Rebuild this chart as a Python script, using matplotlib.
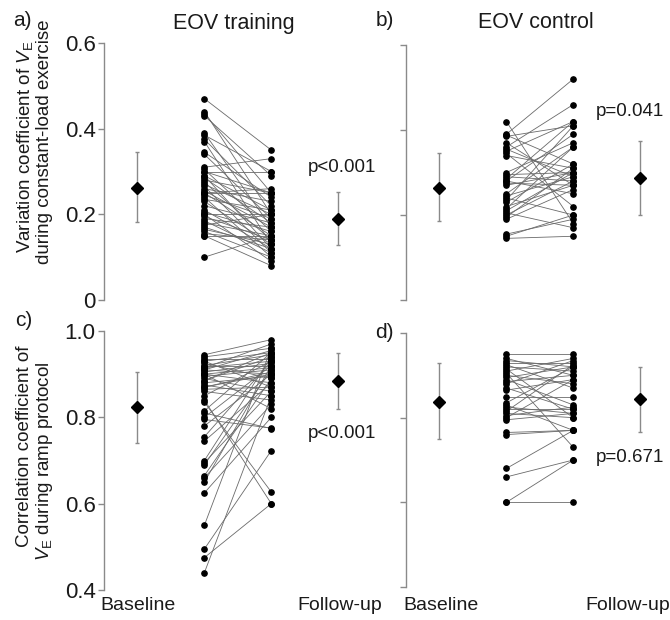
import numpy as np
import matplotlib.pyplot as plt

plt.rcParams['font.family'] = ['Liberation Sans', 'DejaVu Sans']
plt.rcParams['mathtext.fontset'] = 'custom'
plt.rcParams['mathtext.rm'] = 'Liberation Sans'
plt.rcParams['mathtext.it'] = 'Liberation Sans:italic'

# panel a: variation coefficient, EOV training (baseline -> follow-up)
a_base = [0.47, 0.44, 0.435, 0.43, 0.39, 0.385, 0.375, 0.37, 0.345, 0.34,
          0.31, 0.305, 0.30, 0.30, 0.29, 0.29, 0.285, 0.28, 0.275, 0.27,
          0.265, 0.26, 0.255, 0.25, 0.25, 0.25, 0.245, 0.24, 0.235, 0.23,
          0.22, 0.21, 0.205, 0.20, 0.20, 0.195, 0.19, 0.185, 0.18, 0.175,
          0.17, 0.165, 0.16, 0.155, 0.15, 0.15, 0.10]
a_follow = [0.35, 0.20, 0.25, 0.29, 0.17, 0.30, 0.22, 0.13, 0.24, 0.19,
            0.33, 0.16, 0.30, 0.25, 0.12, 0.21, 0.18, 0.25, 0.14, 0.20,
            0.11, 0.23, 0.17, 0.25, 0.15, 0.26, 0.19, 0.10, 0.21, 0.13,
            0.18, 0.12, 0.16, 0.20, 0.09, 0.14, 0.17, 0.11, 0.15, 0.20,
            0.12, 0.13, 0.10, 0.14, 0.08, 0.15, 0.15]

# panel b: variation coefficient, EOV control
b_base = [0.42, 0.39, 0.388, 0.385, 0.37, 0.36, 0.355, 0.35, 0.345, 0.34,
          0.30, 0.295, 0.29, 0.285, 0.28, 0.28, 0.275, 0.27, 0.25, 0.245,
          0.24, 0.235, 0.23, 0.22, 0.215, 0.21, 0.205, 0.20, 0.195, 0.19,
          0.155, 0.15, 0.145]
b_follow = [0.18, 0.52, 0.32, 0.41, 0.27, 0.46, 0.29, 0.42, 0.22, 0.31,
            0.37, 0.30, 0.28, 0.42, 0.25, 0.39, 0.27, 0.30, 0.36, 0.29,
            0.20, 0.41, 0.32, 0.27, 0.36, 0.30, 0.17, 0.28, 0.31, 0.26,
            0.19, 0.20, 0.15]

# panel c: correlation coefficient, EOV training
c_base = [0.945, 0.94, 0.935, 0.93, 0.925, 0.92, 0.92, 0.915, 0.91, 0.91,
          0.905, 0.90, 0.90, 0.895, 0.89, 0.885, 0.88, 0.875, 0.87, 0.865,
          0.86, 0.84, 0.835, 0.815, 0.81, 0.80, 0.795, 0.78, 0.755, 0.745,
          0.70, 0.695, 0.69, 0.665, 0.66, 0.65, 0.625, 0.55, 0.495, 0.475,
          0.44, 0.93, 0.915, 0.90, 0.885, 0.87, 0.85]
c_follow = [0.98, 0.96, 0.935, 0.95, 0.89, 0.945, 0.92, 0.93, 0.955, 0.90,
            0.925, 0.915, 0.88, 0.91, 0.86, 0.94, 0.895, 0.85, 0.905, 0.87,
            0.84, 0.60, 0.627, 0.95, 0.774, 0.92, 0.775, 0.90, 0.93, 0.88,
            0.94, 0.86, 0.91, 0.89, 0.83, 0.92, 0.80, 0.96, 0.723, 0.60,
            0.85, 0.87, 0.97, 0.82, 0.95, 0.90, 0.93]

# panel d: correlation coefficient, EOV control
d_base = [0.95, 0.94, 0.935, 0.93, 0.925, 0.92, 0.915, 0.91, 0.905, 0.90,
          0.895, 0.89, 0.885, 0.88, 0.87, 0.865, 0.85, 0.835, 0.83, 0.825,
          0.82, 0.815, 0.81, 0.805, 0.80, 0.795, 0.765, 0.76, 0.68, 0.66,
          0.60, 0.60]
d_follow = [0.95, 0.90, 0.92, 0.93, 0.87, 0.91, 0.80, 0.94, 0.73, 0.88,
            0.92, 0.83, 0.90, 0.935, 0.82, 0.89, 0.85, 0.92, 0.77, 0.81,
            0.82, 0.925, 0.80, 0.825, 0.89, 0.81, 0.77, 0.77, 0.77, 0.70,
            0.70, 0.60]

# group mean and SD (diamonds): [baseline, follow-up]
a_mean = [0.261, 0.189]; a_lo = [0.182, 0.128]; a_hi = [0.345, 0.252]
b_mean = [0.264, 0.287]; b_lo = [0.187, 0.200]; b_hi = [0.345, 0.373]
c_mean = [0.823, 0.885]; c_lo = [0.740, 0.820]; c_hi = [0.905, 0.950]
d_mean = [0.838, 0.845]; d_lo = [0.750, 0.767]; d_hi = [0.930, 0.920]

p_texts = ['p<0.001', 'p=0.041', 'p<0.001', 'p=0.671']
titles = ['EOV training', 'EOV control']
xlabels = ['Baseline', 'Follow-up']

W, H = 670, 620
fig = plt.figure(figsize=(6.7, 6.2), dpi=100)


def box(left, top, right, bottom):
    return [left / W, 1 - bottom / H, (right - left) / W, (bottom - top) / H]


grey = '#8a8a8a'
ink = '#1a1a1a'


def panel(rect, base, follow, mean, lo, hi, ylim, ticks, labels):
    ax = fig.add_axes(rect)
    for l, r in zip(base, follow):
        ax.plot([1, 2], [l, r], color='#6a6a6a', lw=0.6, zorder=2)
    ax.plot([1] * len(base), base, 'o', color='black', ms=3.8, zorder=3,
            clip_on=False)
    ax.plot([2] * len(follow), follow, 'o', color='black', ms=3.8, zorder=3,
            clip_on=False)
    m = np.array(mean)
    err = [m - np.array(lo), np.array(hi) - m]
    ax.errorbar([0, 3], m, yerr=err, fmt='D', color='black', ms=6.5,
                ecolor=grey, elinewidth=1.0, capsize=1.5, capthick=1.0,
                zorder=4)
    ax.set_xlim(-0.5, 3.4)
    ax.set_ylim(*ylim)
    ax.set_yticks(ticks)
    if labels:
        ax.set_yticklabels(labels, fontsize=16, color=ink)
    else:
        ax.set_yticklabels([])
    for s in ['top', 'right', 'bottom']:
        ax.spines[s].set_visible(False)
    ax.spines['left'].set_color(grey)
    ax.spines['left'].set_linewidth(1.0)
    ax.tick_params(axis='y', direction='out', length=4, width=1.0,
                   color=grey, pad=2)
    ax.set_xticks([])
    ax.patch.set_alpha(0)
    return ax


axa = panel(box(104, 43, 365, 300), a_base, a_follow, a_mean, a_lo, a_hi,
            (0, 0.6), [0, 0.2, 0.4, 0.6], ['0', '0.2', '0.4', '0.6'])
axb = panel(box(406, 45, 667, 300), b_base, b_follow, b_mean, b_lo, b_hi,
            (0, 0.6), [0, 0.2, 0.4, 0.6], None)
axc = panel(box(104, 331, 365, 590), c_base, c_follow, c_mean, c_lo, c_hi,
            (0.4, 1.0), [0.4, 0.6, 0.8, 1.0], ['0.4', '0.6', '0.8', '1.0'])
axd = panel(box(406, 333, 667, 587), d_base, d_follow, d_mean, d_lo, d_hi,
            (0.4, 1.0), [0.4, 0.6, 0.8, 1.0], None)


def ftext(x, y, s, size=14, **kw):
    fig.text(x / W, 1 - y / H, s, fontsize=size, color=ink,
             ha='center', va='center', **kw)


# panel letters and titles
ftext(22, 20, 'a)', 15)
ftext(385, 20, 'b)', 15)
ftext(24, 320, 'c)', 15)
ftext(384, 333, 'd)', 15)
ftext(234, 23, titles[0], 15.5)
ftext(536, 23, titles[1], 15.5)

# p values
ftext(342, 168, p_texts[0], 13.5)
ftext(630, 112, p_texts[1], 13.5)
ftext(342, 433, p_texts[2], 13.5)
ftext(630, 457, p_texts[3], 13.5)

# y labels
ve = r'$V_{\mathrm{E}}$'
ftext(25, 147, 'Variation coefficient of ' + ve, 13.5, rotation=90)
ftext(45, 142, 'during constant-load exercise', 13.5, rotation=90)
ftext(25, 446, 'Correlation coefficient of', 13.5, rotation=90)
ftext(45, 461, ve + ' during ramp protocol', 13.5, rotation=90)

# x labels
ftext(138, 605, xlabels[0], 14)
ftext(340, 605, xlabels[1], 14)
ftext(441, 605, xlabels[0], 14)
ftext(628, 605, xlabels[1], 14)

fig.savefig('out.png', dpi=100)
